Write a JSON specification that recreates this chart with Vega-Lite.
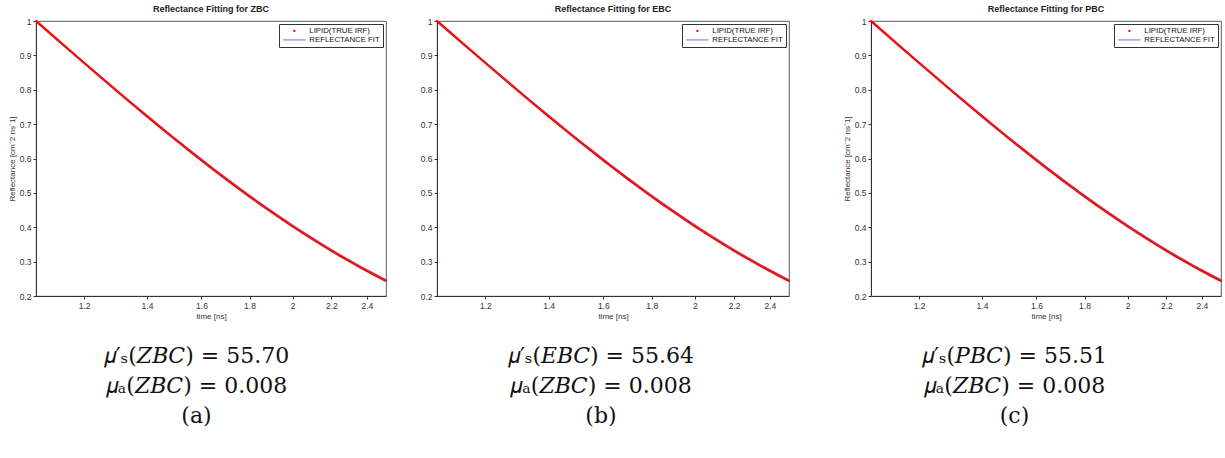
{
  "$schema": "https://vega.github.io/schema/vega-lite/v6.json",
  "background": "white",
  "padding": {"left": 7, "top": 4, "right": 0, "bottom": 0},
  "spacing": 47,
  "datasets": {
    "curve": [
      {"t": 1.0666, "lipid": 1.0, "fit": 1.0},
      {"t": 1.1, "lipid": 0.968, "fit": 0.9684},
      {"t": 1.15, "lipid": 0.922, "fit": 0.9229},
      {"t": 1.2, "lipid": 0.8782, "fit": 0.8796},
      {"t": 1.25, "lipid": 0.8365, "fit": 0.8383},
      {"t": 1.3, "lipid": 0.7968, "fit": 0.7989},
      {"t": 1.35, "lipid": 0.7589, "fit": 0.7614},
      {"t": 1.4, "lipid": 0.7228, "fit": 0.7256},
      {"t": 1.45, "lipid": 0.6885, "fit": 0.6916},
      {"t": 1.5, "lipid": 0.6558, "fit": 0.6591},
      {"t": 1.55, "lipid": 0.6246, "fit": 0.6281},
      {"t": 1.6, "lipid": 0.595, "fit": 0.5986},
      {"t": 1.65, "lipid": 0.5667, "fit": 0.5705},
      {"t": 1.7, "lipid": 0.5398, "fit": 0.5437},
      {"t": 1.75, "lipid": 0.5141, "fit": 0.5182},
      {"t": 1.8, "lipid": 0.4897, "fit": 0.4939},
      {"t": 1.85, "lipid": 0.4664, "fit": 0.4707},
      {"t": 1.9, "lipid": 0.4443, "fit": 0.4486},
      {"t": 1.95, "lipid": 0.4232, "fit": 0.4275},
      {"t": 2.0, "lipid": 0.4031, "fit": 0.4074},
      {"t": 2.05, "lipid": 0.3839, "fit": 0.3883},
      {"t": 2.1, "lipid": 0.3657, "fit": 0.3701},
      {"t": 2.15, "lipid": 0.3483, "fit": 0.3527},
      {"t": 2.2, "lipid": 0.3317, "fit": 0.3361},
      {"t": 2.25, "lipid": 0.316, "fit": 0.3203},
      {"t": 2.3, "lipid": 0.301, "fit": 0.3053},
      {"t": 2.35, "lipid": 0.2867, "fit": 0.291},
      {"t": 2.4, "lipid": 0.2731, "fit": 0.2773},
      {"t": 2.45, "lipid": 0.2601, "fit": 0.2643},
      {"t": 2.5, "lipid": 0.2477, "fit": 0.2518},
      {"t": 2.515, "lipid": 0.2441, "fit": 0.2482}
    ]
  },
  "config": {
    "view": {"stroke": "#333", "strokeWidth": 0.8},
    "font": "Liberation Sans",
    "axis": {
      "labelFont": "Liberation Sans", "labelFontSize": 8.5, "labelColor": "#333",
      "titleFont": "Liberation Sans", "titleFontSize": 8, "titleFontWeight": "normal", "titleColor": "#333",
      "domainColor": "#333", "tickColor": "#333", "tickSize": 3, "grid": false,
      "labelPadding": 2, "titlePadding": 3, "labelOverlap": false
    },
    "title": {"font": "Liberation Sans", "fontSize": 9, "fontWeight": "bold", "color": "#222", "offset": 2, "frame": "group"},
    "legend": {
      "title": null, "orient": "top-right", "offset": 3, "padding": 3,
      "strokeColor": "#333", "fillColor": "white",
      "labelFont": "Liberation Sans", "labelFontSize": 7.8, "labelColor": "#111",
      "symbolSize": 45, "symbolOffset": 8.5, "labelOffset": 11, "rowPadding": 0, "symbolStrokeWidth": 0
    }
  },
  "hconcat": [
    {
      "spacing": 27,
      "hconcat": [
        {
          "title": {"text": ["𝜇′ₛ(𝑍𝐵𝐶) = 55.70", "𝜇ₐ(𝑍𝐵𝐶) = 0.008", "(a)"], "orient": "bottom", "anchor": "middle", "frame": "bounds", "dx": -3, "font": "DejaVu Serif", "fontSize": 22, "fontWeight": "normal", "lineHeight": 30, "offset": 25, "color": "#111"},
          "resolve": {"scale": {"shape": "independent", "color": "independent"}, "legend": {"shape": "independent", "color": "independent"}},
          "vconcat": [
            {
              "title": {"text": "Reflectance Fitting for ZBC"},
              "width": 350, "height": 275,
              "data": {"name": "curve"},
              "encoding": {
                "x": {"field": "t", "type": "quantitative", "scale": {"type": "log", "domain": [1.0666, 2.515], "nice": false}, "axis": {"title": "time [ns]", "values": [1.2, 1.4, 1.6, 1.8, 2, 2.2, 2.4], "format": ".1~f"}}
              },
              "layer": [
                {"mark": {"type": "line", "color": "#9a9ee0", "strokeWidth": 1.2}, "encoding": {"y": {"field": "fit", "type": "quantitative", "scale": {"domain": [0.2, 1], "nice": false}, "axis": {"title": "Reflectance [cm⁻2 ns⁻1]", "values": [0.2, 0.3, 0.4, 0.5, 0.6, 0.7, 0.8, 0.9, 1], "format": ".1~f"}}}},
                {"mark": {"type": "line", "color": "#ee1111", "strokeWidth": 2.4}, "encoding": {"y": {"field": "lipid", "type": "quantitative", "axis": {"title": "Reflectance [cm⁻2 ns⁻1]", "values": [0.2, 0.3, 0.4, 0.5, 0.6, 0.7, 0.8, 0.9, 1], "format": ".1~f"}}}},
                {"mark": {"type": "point", "filled": true, "opacity": 1, "size": 30}, "encoding": {
                  "y": {"field": "lipid", "type": "quantitative", "axis": {"title": "Reflectance [cm⁻2 ns⁻1]", "values": [0.2, 0.3, 0.4, 0.5, 0.6, 0.7, 0.8, 0.9, 1], "format": ".1~f"}},
                  "color": {"datum": "LIPID(TRUE IRF)", "scale": {"domain": ["LIPID(TRUE IRF)", "REFLECTANCE FIT"], "range": ["#ee1111", "#8f93d8"]}},
                  "shape": {"datum": "LIPID(TRUE IRF)", "scale": {"domain": ["LIPID(TRUE IRF)", "REFLECTANCE FIT"], "range": ["M-0.35,0A0.35,0.35,0,1,1,0.35,0A0.35,0.35,0,1,1,-0.35,0Z", "M-3.3,-0.2H3.3V0.2H-3.3Z"]}}
                }}
              ]
            }
          ]
        },
        {
          "title": {"text": ["𝜇′ₛ(𝐸𝐵𝐶) = 55.64", "𝜇ₐ(𝑍𝐵𝐶) = 0.008", "(b)"], "orient": "bottom", "anchor": "middle", "frame": "bounds", "dx": -6, "font": "DejaVu Serif", "fontSize": 22, "fontWeight": "normal", "lineHeight": 30, "offset": 25, "color": "#111"},
          "resolve": {"scale": {"shape": "independent", "color": "independent"}, "legend": {"shape": "independent", "color": "independent"}},
          "vconcat": [
            {
              "title": {"text": "Reflectance Fitting for EBC"},
              "width": 352, "height": 275,
              "data": {"name": "curve"},
              "encoding": {
                "x": {"field": "t", "type": "quantitative", "scale": {"type": "log", "domain": [1.0666, 2.515], "nice": false}, "axis": {"title": "time [ns]", "values": [1.2, 1.4, 1.6, 1.8, 2, 2.2, 2.4], "format": ".1~f"}}
              },
              "layer": [
                {"mark": {"type": "line", "color": "#9a9ee0", "strokeWidth": 1.2}, "encoding": {"y": {"field": "fit", "type": "quantitative", "scale": {"domain": [0.2, 1], "nice": false}, "axis": {"title": null, "values": [0.2, 0.3, 0.4, 0.5, 0.6, 0.7, 0.8, 0.9, 1], "format": ".1~f"}}}},
                {"mark": {"type": "line", "color": "#ee1111", "strokeWidth": 2.4}, "encoding": {"y": {"field": "lipid", "type": "quantitative", "axis": {"title": null, "values": [0.2, 0.3, 0.4, 0.5, 0.6, 0.7, 0.8, 0.9, 1], "format": ".1~f"}}}},
                {"mark": {"type": "point", "filled": true, "opacity": 1, "size": 30}, "encoding": {
                  "y": {"field": "lipid", "type": "quantitative", "axis": {"title": null, "values": [0.2, 0.3, 0.4, 0.5, 0.6, 0.7, 0.8, 0.9, 1], "format": ".1~f"}},
                  "color": {"datum": "LIPID(TRUE IRF)", "scale": {"domain": ["LIPID(TRUE IRF)", "REFLECTANCE FIT"], "range": ["#ee1111", "#8f93d8"]}},
                  "shape": {"datum": "LIPID(TRUE IRF)", "scale": {"domain": ["LIPID(TRUE IRF)", "REFLECTANCE FIT"], "range": ["M-0.35,0A0.35,0.35,0,1,1,0.35,0A0.35,0.35,0,1,1,-0.35,0Z", "M-3.3,-0.2H3.3V0.2H-3.3Z"]}}
                }}
              ]
            }
          ]
        }
      ]
    },
    {
      "title": {"text": ["𝜇′ₛ(𝑃𝐵𝐶) = 55.51", "𝜇ₐ(𝑍𝐵𝐶) = 0.008", "(c)"], "orient": "bottom", "anchor": "middle", "frame": "bounds", "dx": -20, "font": "DejaVu Serif", "fontSize": 22, "fontWeight": "normal", "lineHeight": 30, "offset": 25, "color": "#111"},
      "resolve": {"scale": {"shape": "independent", "color": "independent"}, "legend": {"shape": "independent", "color": "independent"}},
      "vconcat": [
        {
          "title": {"text": "Reflectance Fitting for PBC"},
          "width": 350, "height": 275,
          "data": {"name": "curve"},
          "encoding": {
            "x": {"field": "t", "type": "quantitative", "scale": {"type": "log", "domain": [1.0666, 2.515], "nice": false}, "axis": {"title": "time [ns]", "values": [1.2, 1.4, 1.6, 1.8, 2, 2.2, 2.4], "format": ".1~f"}}
          },
          "layer": [
            {"mark": {"type": "line", "color": "#9a9ee0", "strokeWidth": 1.2}, "encoding": {"y": {"field": "fit", "type": "quantitative", "scale": {"domain": [0.2, 1], "nice": false}, "axis": {"title": "Reflectance [cm⁻2 ns⁻1]", "values": [0.2, 0.3, 0.4, 0.5, 0.6, 0.7, 0.8, 0.9, 1], "format": ".1~f"}}}},
            {"mark": {"type": "line", "color": "#ee1111", "strokeWidth": 2.4}, "encoding": {"y": {"field": "lipid", "type": "quantitative", "axis": {"title": "Reflectance [cm⁻2 ns⁻1]", "values": [0.2, 0.3, 0.4, 0.5, 0.6, 0.7, 0.8, 0.9, 1], "format": ".1~f"}}}},
            {"mark": {"type": "point", "filled": true, "opacity": 1, "size": 30}, "encoding": {
              "y": {"field": "lipid", "type": "quantitative", "axis": {"title": "Reflectance [cm⁻2 ns⁻1]", "values": [0.2, 0.3, 0.4, 0.5, 0.6, 0.7, 0.8, 0.9, 1], "format": ".1~f"}},
              "color": {"datum": "LIPID(TRUE IRF)", "scale": {"domain": ["LIPID(TRUE IRF)", "REFLECTANCE FIT"], "range": ["#ee1111", "#8f93d8"]}},
              "shape": {"datum": "LIPID(TRUE IRF)", "scale": {"domain": ["LIPID(TRUE IRF)", "REFLECTANCE FIT"], "range": ["M-0.35,0A0.35,0.35,0,1,1,0.35,0A0.35,0.35,0,1,1,-0.35,0Z", "M-3.3,-0.2H3.3V0.2H-3.3Z"]}}
            }}
          ]
        }
      ]
    }
  ]
}
